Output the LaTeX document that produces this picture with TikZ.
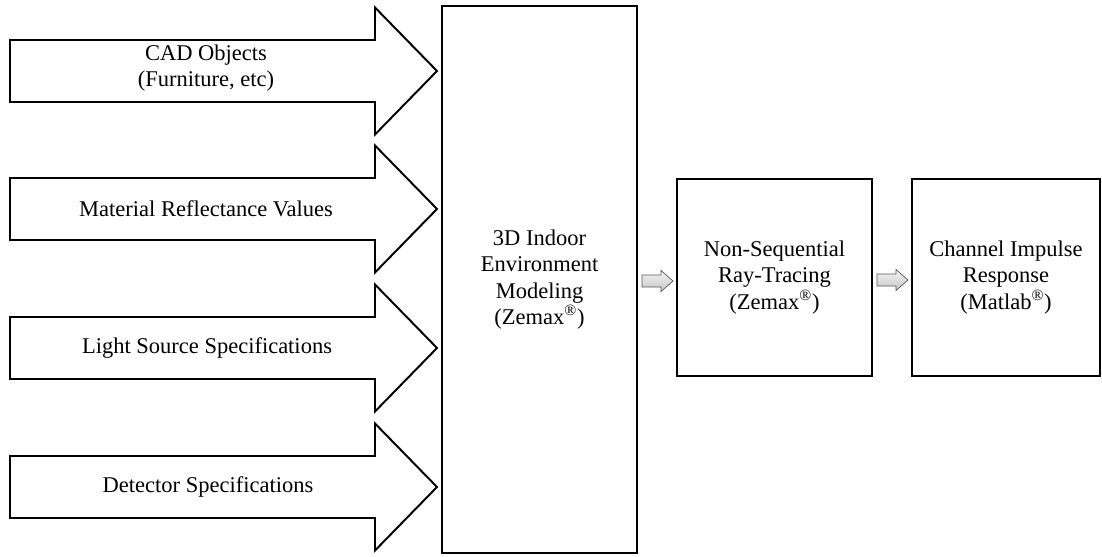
\documentclass[tikz,border=0pt]{standalone}
\usepackage{fontspec}
\setmainfont{Liberation Serif}
\usetikzlibrary{positioning, calc}

\begin{document}
\begin{tikzpicture}[
        x=0.025cm, y=-0.025cm,
        every node/.style={align=center, font=\fontsize{16}{18.8}\selectfont},
        bigarrow/.style={draw=black, fill=white, line width=1.4pt, line join=miter},
        block/.style={rectangle, draw=black, fill=white, line width=1.6pt,
                      minimum width=4.875cm, minimum height=4.925cm, inner sep=0pt},
        flow/.style={draw=gray!70!black, line width=0.5pt, top color=gray!8, bottom color=gray!45}
    ]
        \useasboundingbox (0,0) rectangle (1102,557);

        % Input arrows
        \foreach \y in {71,209,348,487}
            \draw[bigarrow] (10,\y-31) -- (375,\y-31) -- (375,\y-63.5) -- (437,\y)
                -- (375,\y+63.5) -- (375,\y+31) -- (10,\y+31) -- cycle;
        \node (cad) at (206,68) {CAD Objects\\(Furniture, etc)};
        \node (mat) at (206,209) {Material Reflectance Values};
        \node (light) at (207,348) {Light Source Specifications};
        \node (det) at (208,487) {Detector Specifications};

        % Processing blocks
        \node [block, minimum height=13.675cm] (model) at (539.5,279.5)
            {3D Indoor\\Environment\\Modeling\\(Zemax\textsuperscript{®})};
        \node [block] (trace) at (774.5,277.5)
            {Non-Sequential\\Ray-Tracing\\(Zemax\textsuperscript{®})};
        \node [block, minimum width=4.7cm] (cir) at (1006,277.5)
            {Channel Impulse\\Response\\(Matlab\textsuperscript{®})};

        % Flow arrows between blocks
        \coordinate (f1) at ($(model.east)!0.5!(trace.west)$);
        \coordinate (f2) at ($(trace.east)!0.5!(cir.west)$);
        \foreach \c in {f1,f2}
            \draw[flow] ($(\c)+(-15,-3.5)$) -- ++(19,0) -- ++(0,-4.5) -- ++(12,10.5)
                -- ++(-12,10.5) -- ++(0,-4.5) -- ++(-19,0) -- cycle;
    \end{tikzpicture}
\end{document}
